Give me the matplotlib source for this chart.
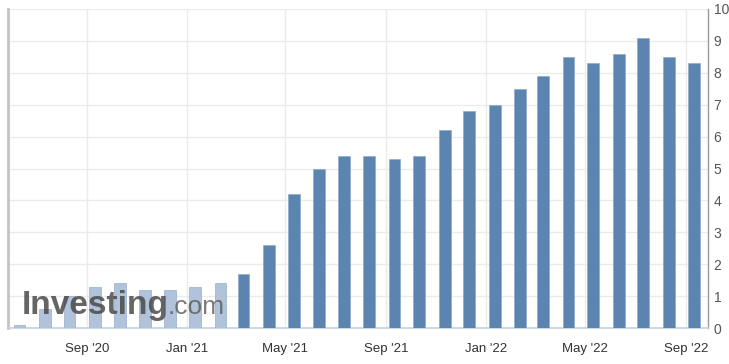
import matplotlib
matplotlib.use("Agg")
import matplotlib.pyplot as plt
import matplotlib.dates as mdates
import pandas as pd

# release dates (roughly mid-month) and yearly CPI values
dates = pd.to_datetime([
    "2020-06-11", "2020-07-12", "2020-08-11", "2020-09-11", "2020-10-11",
    "2020-11-11", "2020-12-11", "2021-01-11", "2021-02-11", "2021-03-11",
    "2021-04-11", "2021-05-11", "2021-06-11", "2021-07-11", "2021-08-11",
    "2021-09-11", "2021-10-11", "2021-11-11", "2021-12-11", "2022-01-11",
    "2022-02-11", "2022-03-11", "2022-04-11", "2022-05-11", "2022-06-11",
    "2022-07-11", "2022-08-11", "2022-09-11",
])
values = [0.1, 0.6, 1.0, 1.3, 1.4, 1.2, 1.2, 1.3, 1.4, 1.7,
          2.6, 4.2, 5.0, 5.4, 5.4, 5.3, 5.4, 6.2, 6.8, 7.0,
          7.5, 7.9, 8.5, 8.3, 8.6, 9.1, 8.5, 8.3]
n_faded = 9  # bars sitting under the watermark
yticks = list(range(0, 11))

dark = "#5c84b0"
light = "#b0c3da"
colors = [light] * n_faded + [dark] * (len(values) - n_faded)

plt.rcParams["font.family"] = ["Liberation Sans", "DejaVu Sans"]

fig = plt.figure(figsize=(7.29, 3.64), dpi=100)
ax = fig.add_axes([8 / 729, 36 / 364, 700 / 729, 319 / 364])

ax.bar(dates, values, width=14.5, color=colors, edgecolor="#86a3c4",
       linewidth=0.4, zorder=3)

ax.set_xlim(pd.Timestamp("2020-05-28"), pd.Timestamp("2022-09-28"))
ax.set_ylim(0, 10)
ax.set_yticks(yticks)
ax.yaxis.tick_right()
ax.xaxis.set_major_locator(mdates.MonthLocator(bymonth=[1, 5, 9]))
ax.xaxis.set_major_formatter(mdates.DateFormatter("%b '%y"))
ax.tick_params(axis="y", length=0, pad=4, labelsize=10, labelcolor="#555555")
ax.tick_params(axis="x", length=0, pad=17, labelsize=9.5, labelcolor="#333333")
for lab in ax.get_xticklabels():
    lab.set_verticalalignment("baseline")

ax.grid(True, color="#ebebeb", linewidth=1, zorder=0)
ax.set_axisbelow(True)
ax.spines["top"].set_visible(False)
ax.spines["left"].set_color("#c4c4c4")
ax.spines["left"].set_linewidth(2)
ax.spines["right"].set_color("#9a9a9a")
ax.spines["right"].set_linewidth(1)
ax.spines["bottom"].set_color("#c3d2e3")
ax.spines["bottom"].set_linewidth(1.2)

# watermark
fig.text(22 / 729, (364 - 314) / 364, "Investing", fontsize=24, fontweight="bold",
         color="#4a4a4a", alpha=0.85, zorder=5)
fig.text(168 / 729, (364 - 314) / 364, ".com", fontsize=19,
         color="#5a5a5a", alpha=0.8, zorder=5)

fig.savefig("out.png", dpi=100)
